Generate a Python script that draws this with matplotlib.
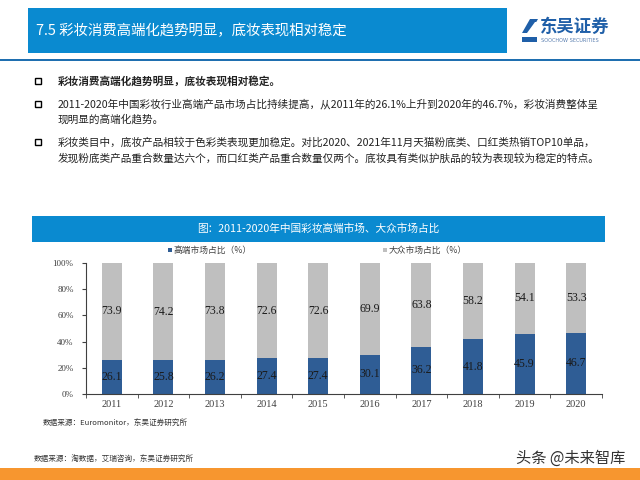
import matplotlib.pyplot as plt
import numpy as np
from matplotlib.patches import Rectangle, Polygon

plt.rcParams['font.family'] = ['Noto Sans CJK SC', 'DejaVu Sans']

# chart data
years = ['2011', '2012', '2013', '2014', '2015', '2016', '2017', '2018', '2019', '2020']
high_end = [26.1, 25.8, 26.2, 27.4, 27.4, 30.1, 36.2, 41.8, 45.9, 46.7]
mass = [73.9, 74.2, 73.8, 72.6, 72.6, 69.9, 63.8, 58.2, 54.1, 53.3]
series_names = ['高端市场占比（%）', '大众市场占比（%）']

page_title = '7.5 彩妆消费高端化趋势明显，底妆表现相对稳定'
chart_title = '图：2011-2020年中国彩妆高端市场、大众市场占比'
bullets = [
    ['彩妆消费高端化趋势明显，底妆表现相对稳定。'],
    ['2011-2020年中国彩妆行业高端产品市场占比持续提高，从2011年的26.1%上升到2020年的46.7%，彩妆消费整体呈',
     '现明显的高端化趋势。'],
    ['彩妆类目中，底妆产品相较于色彩类表现更加稳定。对比2020、2021年11月天猫粉底类、口红类热销TOP10单品，',
     '发现粉底类产品重合数量达六个，而口红类产品重合数量仅两个。底妆具有类似护肤品的较为表现较为稳定的特点。'],
]
source_chart = '数据来源：Euromonitor，东吴证券研究所'
source_page = '数据来源：淘数据，艾瑞咨询，东吴证券研究所'
watermark = '头条 @未来智库'

BLUE = '#0a8ad0'
DARK = '#2f5d95'
GRAY = '#bfbfbf'
W, H = 640, 480


def fx(x):
    return x / W


def fy(y):
    return 1 - y / H


def rect(x0, y0, x1, y1, **kw):
    fig.patches.append(Rectangle((fx(x0), fy(y1)), fx(x1 - x0), (y1 - y0) / H,
                                 transform=fig.transFigure, **kw))


fig = plt.figure(figsize=(6.4, 4.8), dpi=100)

# header
rect(28, 8, 507, 53, color=BLUE, lw=0)
fig.text(fx(36), fy(31), page_title, color='white', fontsize=10.4, va='center')
rect(0, 59, 640, 61, color='#1f6fb0', lw=0)

# logo
fig.patches.append(Polygon([(fx(522), fy(33)), (fx(530), fy(19)), (fx(538), fy(19)), (fx(530), fy(33))],
                           closed=True, transform=fig.transFigure, color='#1f5fa8', lw=0))
fig.patches.append(Polygon([(fx(527), fy(33)), (fx(535), fy(22)), (fx(538), fy(22)), (fx(531), fy(33))],
                           closed=True, transform=fig.transFigure, color='white', lw=0))
rect(522, 37, 537, 42, color='#1f5fa8', lw=0)
fig.text(fx(540), fy(27), '东吴证券', color='#1f5fa8', fontsize=12.5, fontweight='bold', va='center')
fig.text(fx(541), fy(40), 'SOOCHOW SECURITIES', color='#5a7fb0', fontsize=3.6, va='center',
         family='DejaVu Sans')

# bullets
line_y = [[81], [104, 119], [142, 158]]
for n, (lines, ys) in enumerate(zip(bullets, line_y)):
    rect(35, ys[0] - 3, 41, ys[0] + 3, fill=False, ec='black', lw=1.0)
    for txt, y in zip(lines, ys):
        fig.text(fx(58), fy(y), txt, fontsize=7.65, va='center', color='#222222',
                 fontweight='bold' if n == 0 else 'normal')

# chart banner
rect(32, 216, 605, 242, color=BLUE, lw=0)
fig.text(fx(318), fy(229), chart_title, color='white', fontsize=7.7, ha='center', va='center')

# legend
rect(168, 248, 172, 252, color=DARK, lw=0)
fig.text(fx(174), fy(250), series_names[0], fontsize=6.3, va='center', color='#404040')
rect(383, 248, 387, 252, color=GRAY, lw=0)
fig.text(fx(389), fy(250), series_names[1], fontsize=6.3, va='center', color='#404040')

# chart
ax = fig.add_axes([fx(86), fy(394), fx(602) - fx(86), (394 - 263) / H])
x = np.arange(len(years))
ax.bar(x, high_end, width=0.39, color=DARK, lw=0)
ax.bar(x, mass, width=0.39, bottom=high_end, color=GRAY, lw=0)
for i in range(len(years)):
    ax.text(x[i], high_end[i] / 2, f'{high_end[i]:.1f}', ha='center', va='center',
            fontsize=8.5, color='#1a1a1a', family='Liberation Serif')
    ax.text(x[i], high_end[i] + mass[i] / 2, f'{mass[i]:.1f}', ha='center', va='center',
            fontsize=8.5, color='#1a1a1a', family='Liberation Serif')

ax.set_xlim(-0.5, len(years) - 0.5)
ax.set_ylim(0, 100)
ax.set_yticks(range(0, 101, 20))
ax.set_yticklabels([f'{v}%' for v in range(0, 101, 20)], family='Liberation Serif', fontsize=6.5,
                   color='#404040')
ax.set_xticks(x)
ax.set_xticklabels(years, family='Liberation Serif', fontsize=7.5, color='#404040')
ax.set_xticks(np.arange(-0.5, len(years)), minor=True)
ax.tick_params(axis='x', which='major', length=0, pad=4)
ax.tick_params(axis='x', which='minor', length=3, color='#404040', direction='out')
ax.tick_params(axis='y', length=3, color='#404040', direction='out', pad=6)
for s in ['top', 'right']:
    ax.spines[s].set_visible(False)
for s in ['left', 'bottom']:
    ax.spines[s].set_color('#404040')
    ax.spines[s].set_linewidth(0.8)

# sources and footer
fig.text(fx(43), fy(423), source_chart, fontsize=5.5, va='center', color='#333333')
fig.text(fx(34), fy(460), source_page, fontsize=5.5, va='center', color='#333333')
fig.text(fx(625), fy(458), watermark, fontsize=11, ha='right', va='center', color='#333333')
rect(0, 468, 640, 480, color='#f7962f', lw=0)

fig.savefig('out.png', dpi=100)
